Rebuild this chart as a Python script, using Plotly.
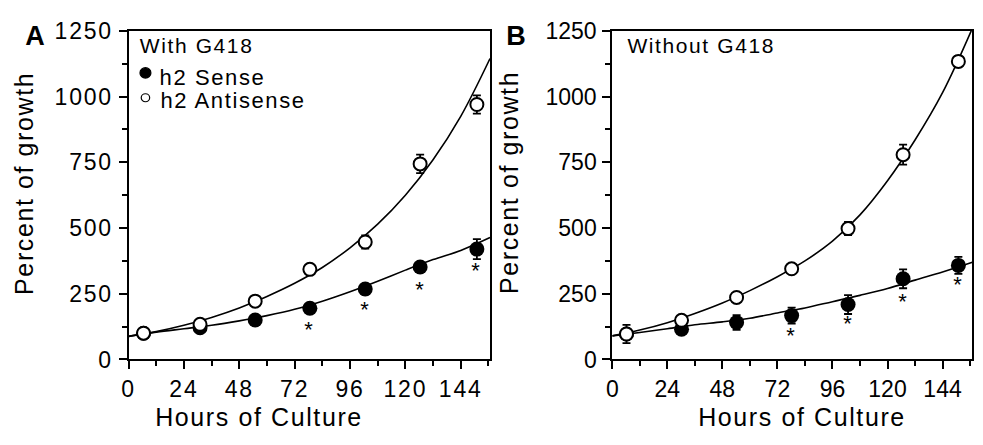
import plotly.graph_objects as go
from plotly.subplots import make_subplots

# ---------------- data ----------------
hours_a = [6.5, 31.0, 54.9, 78.6, 102.6, 126.4, 151.0]
hours_b = [6.2, 30.2, 54.2, 78.2, 102.8, 126.8, 150.9]

a_sense = [100, 121, 150, 195, 268, 352, 420]
a_sense_err = [5, 8, 10, 14, 20, 15, 38]
a_anti = [100, 134, 222, 343, 447, 744, 970]
a_anti_err = [5, 10, 10, 10, 25, 35, 35]

b_sense = [97, 115, 141, 167, 209, 307, 358]
b_sense_err = [10, 10, 28, 30, 36, 36, 32]
b_anti = [97, 149, 236, 345, 498, 779, 1134]
b_anti_err = [35, 10, 10, 10, 25, 38, 20]

# fitted curves
fit_hours_a = [0, 12, 24, 36, 48, 60, 72, 84, 96, 108, 120, 132, 144, 156.7]
a_anti_fit = [88, 106, 130, 160, 196, 240, 290, 350, 425, 515, 625, 760, 925, 1145]
a_sense_fit = [88, 104, 117, 130, 147, 167, 191, 222, 258, 298, 340, 380, 415, 464]

fit_hours_b = [0, 12, 24, 36, 48, 60, 72, 84, 96, 108, 120, 132, 144, 156.5]
b_anti_fit = [90, 112, 140, 175, 215, 262, 315, 375, 450, 550, 680, 835, 1015, 1250]
fit_hours_b2 = [0, 12, 24, 36, 48, 60, 72, 84, 96, 108, 120, 132, 144, 157]
b_sense_fit = [90, 103, 117, 132, 143, 157, 177, 196, 220, 244, 270, 302, 333, 370]

# significance asterisks (placed at the last four time points)
star_a_y = [128, 205, 281, 355]
star_b_y = [105, 151, 236, 301]

x_ticks = [0, 24, 48, 72, 96, 120, 144]
y_ticks = [0, 250, 500, 750, 1000, 1250]

FONT = "Liberation Sans, Arial, sans-serif"
W, H = 983, 445
ANN_SPACING = 1.6   # px letter spacing applied to annotation text
TICK_SPACING = 1.8  # px letter spacing applied to tick labels

fig = make_subplots(rows=1, cols=2)


def add_panel(col, fh, fit_s, fh2, fit_o, hrs, ys, ys_err, yo, yo_err, stars):
    fig.add_trace(go.Scatter(x=fh2, y=fit_o, mode="lines", line=dict(color="black", width=1.6, shape="spline"),
                             showlegend=False, hoverinfo="skip"), row=1, col=col)
    fig.add_trace(go.Scatter(x=fh, y=fit_s, mode="lines", line=dict(color="black", width=1.6, shape="spline"),
                             showlegend=False, hoverinfo="skip"), row=1, col=col)
    fig.add_trace(go.Scatter(x=hrs, y=ys, mode="markers", name="h2 Sense",
                             marker=dict(color="black", size=15, line=dict(width=0)),
                             error_y=dict(type="data", array=ys_err, color="black", thickness=1.8, width=4),
                             showlegend=False), row=1, col=col)
    fig.add_trace(go.Scatter(x=hrs, y=yo, mode="markers", name="h2 Antisense",
                             marker=dict(color="white", size=13, line=dict(color="black", width=2)),
                             error_y=dict(type="data", array=yo_err, color="black", thickness=1.8, width=4),
                             showlegend=False), row=1, col=col)
    xref = "x" if col == 1 else "x2"
    yref = "y" if col == 1 else "y2"
    for xv, yv in zip(hrs[3:], stars):
        fig.add_annotation(x=xv, y=yv, xref=xref, yref=yref, text="*", showarrow=False,
                           font=dict(family=FONT, size=22, color="black"), yshift=-4)


add_panel(1, fit_hours_a, a_sense_fit, fit_hours_a, a_anti_fit, hours_a, a_sense, a_sense_err, a_anti, a_anti_err, star_a_y)
add_panel(2, fit_hours_b2, b_sense_fit, fit_hours_b, b_anti_fit, hours_b, b_sense, b_sense_err, b_anti, b_anti_err, star_b_y)

axis_common = dict(showline=True, linewidth=2, linecolor="black", mirror=True, ticks="outside",
                   ticklen=8, tickwidth=2, tickcolor="black", showgrid=False, zeroline=False,
                   tickfont=dict(family=FONT, size=23, color="black"))

dom_a = [123.3 / W, 487.0 / W]
dom_b = [610.0 / W, 972.3 / W]
dom_y = [1 - 368.0 / H, 1 - 19.0 / H]

fig.update_xaxes(**axis_common, tickmode="array", tickvals=x_ticks,
                 minor=dict(tickmode="linear", tick0=0, dtick=12, ticks="outside", ticklen=5, tickwidth=2,
                            tickcolor="black"), ticklabelstandoff=0)
fig.update_yaxes(**axis_common, tickmode="array", tickvals=y_ticks, range=[0, 1250],
                 minor=dict(tickmode="linear", tick0=0, dtick=125, ticks="outside", ticklen=5, tickwidth=2,
                            tickcolor="black"), ticklabelstandoff=1)
fig.update_xaxes(range=[0, 156.7], domain=dom_a, row=1, col=1)
fig.update_xaxes(range=[0, 157.0], domain=dom_b, row=1, col=2)
fig.update_yaxes(domain=dom_y)


def px(xp, yp):
    return xp / W, 1 - yp / H


def text_ann(txt, xp, yp, size, xanchor="center", bold=False, angle=0):
    if xanchor == "left":
        # letter spacing is added around the measured centre; keep the left edge in place
        xp = xp + len(txt) * ANN_SPACING / 2
    x, y = px(xp, yp)
    fig.add_annotation(x=x, y=y, xref="paper", yref="paper", text=txt, showarrow=False,
                       xanchor=xanchor, yanchor="middle", textangle=angle,
                       font=dict(family=FONT, size=size, color="black", weight="bold" if bold else "normal"))


# axis titles
text_ann("Hours of Culture", 255, 429, 25)
text_ann("Hours of Culture", 801, 429, 25)
text_ann("Percent of growth", 19, 181, 25, angle=-90)
text_ann("Percent of growth", 507, 180, 25, angle=-90)

# panel letters
text_ann("A", 30, 24, 27, bold=True)
text_ann("B", 514, 24, 27, bold=True)

# in-panel labels and legend
text_ann("With G418", 133, 35, 21, xanchor="left")
text_ann("Without G418", 623, 35, 21, xanchor="left")
text_ann("h2 Sense", 153, 68, 22, xanchor="left")
text_ann("h2 Antisense", 153, 93, 22, xanchor="left")

for (cx, cy, d, fill) in [(140.3, 63.6, 11, "black"), (140.3, 90.0, 8.5, "white")]:
    x0, y0 = px(cx - d / 2, cy - d / 2)
    x1, y1 = px(cx + d / 2, cy + d / 2)
    fig.add_shape(type="circle", xref="paper", yref="paper", x0=x0, x1=x1, y0=y1, y1=y0,
                  fillcolor=fill, line=dict(color="black", width=1.2))

fig.update_layout(width=W, height=H, margin=dict(l=0, r=0, t=0, b=0),
                  paper_bgcolor="white", plot_bgcolor="white", showlegend=False,
                  font=dict(family=FONT, color="black"))

# the original typesetting is slightly letter-spaced
spacing_css = (
    "var s=document.createElement('style');"
    "s.textContent='text.annotation-text{letter-spacing:%spx} g.xtick text, g.ytick text{letter-spacing:%spx}';"
    "document.head.appendChild(s);" % (ANN_SPACING, TICK_SPACING)
)

fig.write_html("out.html", post_script=spacing_css)
